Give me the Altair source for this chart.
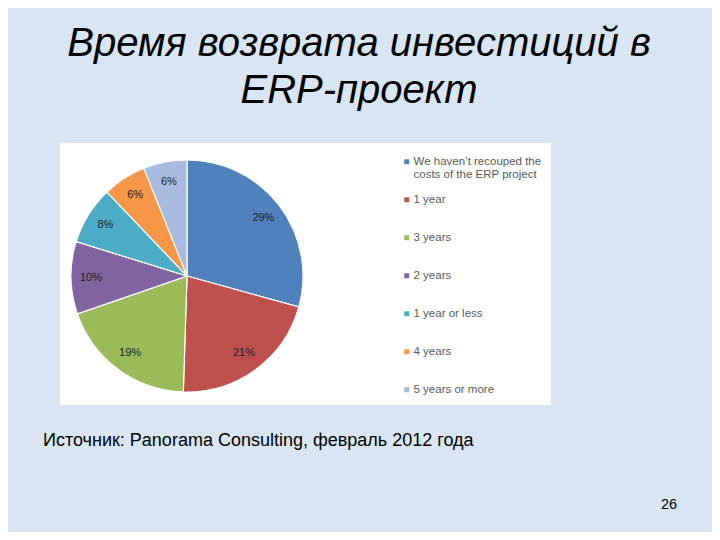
import altair as alt
import pandas as pd

# ---- data ----
categories = [
    "We haven’t recouped the costs of the ERP project",
    "1 year",
    "3 years",
    "2 years",
    "1 year or less",
    "4 years",
    "5 years or more",
]
values = [29, 21, 19, 10, 8, 6, 6]
colors = ["#4F81BD", "#C0504D", "#9BBB59", "#8064A2", "#4BACC6", "#F79646", "#A9BBE0"]

title_text = "Время возврата инвестиций в\nERP-проект"
source_text = "Источник: Panorama Consulting, февраль 2012 года"
page_text = "26"

df = pd.DataFrame({
    "category": categories,
    "value": values,
    "idx": list(range(len(categories))),
    "label": [f"{v}%" for v in values],
})

W, H = 704, 524
CX, CY, R = 179, 268, 116

color_scale = alt.Scale(domain=categories, range=colors)

first = categories[0]
label_expr = (
    f"datum.label == '{first}' ? ['We haven’t recouped the', 'costs of the ERP project'] : datum.label"
)

box = alt.Chart(pd.DataFrame({"a": [0]})).mark_rect(color="white").encode(
    x=alt.value(52), x2=alt.value(543), y=alt.value(135), y2=alt.value(397)
)

base = alt.Chart(df).encode(
    theta=alt.Theta("value:Q", stack=True),
    order=alt.Order("idx:Q"),
)

pie = base.mark_arc(outerRadius=R, stroke="white", strokeWidth=1.2).encode(
    color=alt.Color(
        "category:N",
        scale=color_scale,
        sort=categories,
        legend=alt.Legend(
            title=None,
            orient="none",
            legendX=393,
            legendY=148,
            symbolType="square",
            symbolSize=25,
            symbolStrokeWidth=0,
            labelFont="Liberation Sans",
            labelFontSize=11.5,
            labelColor="#595959",
            labelLimit=300,
            labelOffset=1,
            gridAlign="all",
            rowPadding=12,
            padding=0,
            labelExpr=label_expr,
        ),
    ),
    x=alt.value(CX),
    y=alt.value(CY),
)

pct = base.mark_text(radius=96, font="Liberation Sans", fontSize=11, color="#1F1F1F").encode(
    text="label:N",
    x=alt.value(CX),
    y=alt.value(CY),
)

title = alt.Chart(pd.DataFrame({"t": [title_text]})).mark_text(
    font="Liberation Sans", fontSize=40, fontStyle="italic", color="#000000",
    align="center", baseline="alphabetic", lineBreak="\n", lineHeight=47,
).encode(text="t:N", x=alt.value(351), y=alt.value(48))

source = alt.Chart(pd.DataFrame({"t": [source_text]})).mark_text(
    font="Liberation Sans", fontSize=18, color="#000000", align="left", baseline="alphabetic",
).encode(text="t:N", x=alt.value(35), y=alt.value(438))

page = alt.Chart(pd.DataFrame({"t": [page_text]})).mark_text(
    font="Liberation Sans", fontSize=14.5, color="#000000", align="left", baseline="alphabetic",
).encode(text="t:N", x=alt.value(653), y=alt.value(501))

chart = alt.layer(box, pie, pct, title, source, page).properties(
    width=W, height=H,
    autosize=alt.AutoSizeParams(type="none"),
    padding=0,
    background="#DAE5F3",
).configure_view(stroke=None)

chart.save("out.html", embed_options={"renderer": "svg", "actions": False})
